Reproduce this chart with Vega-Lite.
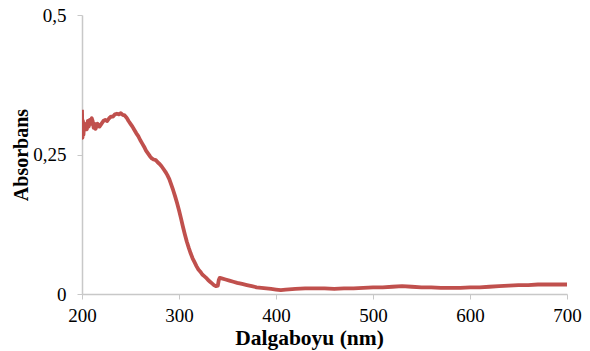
{
  "$schema": "https://vega.github.io/schema/vega-lite/v6.json",
  "width": 485,
  "height": 279,
  "autosize": "none",
  "padding": {"left": 82, "top": 15, "right": 23, "bottom": 57},
  "background": "white",
  "config": {
    "view": {"stroke": null},
    "font": "Liberation Serif"
  },
  "data": {"values": [
    {"x":200,"y":0.33},{"x":200.5,"y":0.28},{"x":201,"y":0.31},{"x":201.5,"y":0.285},{"x":202,"y":0.30},{"x":203,"y":0.295},{"x":204,"y":0.305},{"x":205,"y":0.295},{"x":206,"y":0.31},{"x":207,"y":0.30},{"x":208,"y":0.312},{"x":209,"y":0.305},{"x":210,"y":0.315},{"x":211,"y":0.31},{"x":212,"y":0.298},{"x":213,"y":0.305},{"x":214,"y":0.296},{"x":216,"y":0.305},{"x":218,"y":0.30},{"x":220,"y":0.305},{"x":222,"y":0.31},{"x":224,"y":0.312},{"x":226,"y":0.31},{"x":228,"y":0.315},{"x":230,"y":0.318},{"x":232,"y":0.318},{"x":234,"y":0.322},{"x":236,"y":0.323},{"x":238,"y":0.322},{"x":240,"y":0.324},{"x":242,"y":0.321},{"x":244,"y":0.32},{"x":246,"y":0.316},{"x":248,"y":0.31},{"x":250,"y":0.305},{"x":252,"y":0.30},{"x":254,"y":0.294},{"x":256,"y":0.288},{"x":258,"y":0.283},{"x":260,"y":0.276},{"x":262,"y":0.27},{"x":264,"y":0.264},{"x":266,"y":0.257},{"x":268,"y":0.252},{"x":270,"y":0.247},{"x":272,"y":0.243},{"x":274,"y":0.241},{"x":276,"y":0.24},{"x":278,"y":0.236},{"x":280,"y":0.233},{"x":282,"y":0.229},{"x":284,"y":0.224},{"x":286,"y":0.219},{"x":288,"y":0.213},{"x":290,"y":0.206},{"x":292,"y":0.196},{"x":294,"y":0.186},{"x":296,"y":0.175},{"x":298,"y":0.163},{"x":300,"y":0.150},{"x":302,"y":0.136},{"x":304,"y":0.121},{"x":306,"y":0.107},{"x":308,"y":0.094},{"x":310,"y":0.083},{"x":312,"y":0.073},{"x":314,"y":0.064},{"x":316,"y":0.057},{"x":318,"y":0.050},{"x":320,"y":0.044},{"x":322,"y":0.040},{"x":324,"y":0.035},{"x":326,"y":0.032},{"x":328,"y":0.029},{"x":330,"y":0.025},{"x":332,"y":0.022},{"x":334,"y":0.019},{"x":336,"y":0.016},{"x":338,"y":0.014},{"x":340,"y":0.015},{"x":341,"y":0.025},{"x":342,"y":0.029},{"x":344,"y":0.028},{"x":348,"y":0.026},{"x":352,"y":0.024},{"x":356,"y":0.022},{"x":360,"y":0.020},{"x":365,"y":0.018},{"x":370,"y":0.016},{"x":375,"y":0.014},{"x":380,"y":0.012},{"x":385,"y":0.011},{"x":390,"y":0.010},{"x":395,"y":0.009},{"x":400,"y":0.008},{"x":405,"y":0.007},{"x":410,"y":0.008},{"x":420,"y":0.009},{"x":430,"y":0.010},{"x":440,"y":0.010},{"x":450,"y":0.010},{"x":460,"y":0.009},{"x":470,"y":0.010},{"x":480,"y":0.010},{"x":490,"y":0.011},{"x":500,"y":0.012},{"x":510,"y":0.012},{"x":520,"y":0.013},{"x":530,"y":0.014},{"x":540,"y":0.013},{"x":550,"y":0.012},{"x":560,"y":0.012},{"x":570,"y":0.011},{"x":580,"y":0.011},{"x":590,"y":0.011},{"x":600,"y":0.012},{"x":610,"y":0.012},{"x":620,"y":0.013},{"x":630,"y":0.014},{"x":640,"y":0.015},{"x":650,"y":0.016},{"x":660,"y":0.016},{"x":670,"y":0.017},{"x":680,"y":0.017},{"x":690,"y":0.017},{"x":700,"y":0.017}
  ]},
  "mark": {"type": "line", "color": "#c0504d", "strokeWidth": 3.8, "strokeJoin": "round", "clip": true},
  "encoding": {
    "x": {
      "field": "x", "type": "quantitative",
      "scale": {"domain": [200, 700], "nice": false, "zero": false},
      "axis": {
        "title": "Dalgaboyu (nm)", "values": [200, 300, 400, 500, 600, 700],
        "grid": false, "domainColor": "#c8c8c8", "tickColor": "#c8c8c8", "tickSize": 5, "domainWidth": 1.5,
        "labelFont": "Liberation Serif", "labelFontSize": 19, "labelColor": "#000",
        "labelPadding": 7, "labelFlush": false,
        "titleFont": "Liberation Serif", "titleFontSize": 21.5, "titleFontWeight": "bold",
        "titleColor": "#000", "titleX": 227, "titleY": 50, "titleBaseline": "alphabetic", "titleAlign": "center"
      }
    },
    "y": {
      "field": "y", "type": "quantitative",
      "scale": {"domain": [0, 0.5], "nice": false},
      "axis": {
        "title": "Absorbans", "values": [0, 0.25, 0.5],
        "labelExpr": "replace(format(datum.value, ''), '.', ',')",
        "grid": false, "domainColor": "#c8c8c8", "tickColor": "#c8c8c8", "tickSize": 5, "domainWidth": 1.5,
        "labelFont": "Liberation Serif", "labelFontSize": 19, "labelColor": "#000",
        "labelPadding": 11, "labelFlush": false,
        "titleFont": "Liberation Serif", "titleFontSize": 20, "titleFontWeight": "bold",
        "titleColor": "#000", "titlePadding": 1
      }
    }
  }
}
